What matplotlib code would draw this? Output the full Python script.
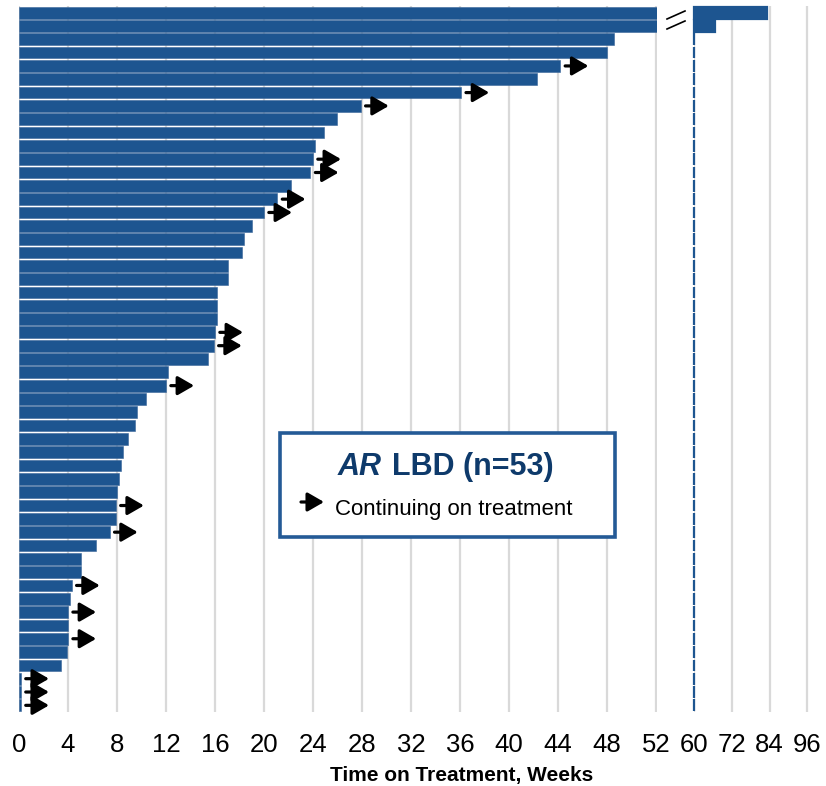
import numpy as np
import matplotlib.pyplot as plt
from matplotlib.patches import Rectangle
from matplotlib.lines import Line2D

plt.rcParams['font.family'] = ['Liberation Sans', 'DejaVu Sans']

# Weeks on treatment per patient, longest first
weeks = [83.1, 66.6, 48.6, 48.0, 44.2, 42.3, 36.1, 27.9, 26.0, 24.9,
         24.2, 24.0, 23.8, 22.2, 21.1, 20.0, 19.0, 18.4, 18.2, 17.1,
         17.1, 16.2, 16.2, 16.2, 16.0, 15.9, 15.4, 12.2, 12.0, 10.4,
         9.6, 9.5, 8.9, 8.5, 8.3, 8.2, 8.0, 7.9, 7.9, 7.4,
         6.3, 5.1, 5.1, 4.3, 4.2, 4.0, 4.0, 4.0, 3.9, 3.4,
         0.15, 0.15, 0.15]
# 1 = still on treatment
ongoing = [0, 0, 0, 0, 1, 0, 1, 1, 0, 0,
           0, 1, 1, 0, 1, 1, 0, 0, 0, 0,
           0, 0, 0, 0, 1, 1, 0, 0, 1, 0,
           0, 0, 0, 0, 0, 0, 0, 1, 0, 1,
           0, 0, 0, 1, 0, 1, 0, 1, 0, 0,
           1, 1, 1]
left_ticks = list(range(0, 53, 4))
right_ticks = [60, 72, 84, 96]

bar_color = '#1D5590'
grid_color = '#D9D9D9'
W, H = 826, 786

arrow_props = dict(arrowstyle='-|>,head_length=0.45,head_width=0.26',
                   mutation_scale=22, lw=2.3, color='black',
                   shrinkA=0, shrinkB=0)

fig = plt.figure(figsize=(W / 100, H / 100), dpi=100)
ax1 = fig.add_axes([19 / W, 74 / H, 638 / W, 706 / H])
ax2 = fig.add_axes([694 / W, 74 / H, 118 / W, 706 / H])

y = np.arange(len(weeks))
w = np.array(weeks)

ax1.barh(y, w, height=0.88, color=bar_color, edgecolor='#3A6699', linewidth=0.4)
ax2.barh(y, np.clip(w - 60, 0, None), left=60, height=0.88, color=bar_color,
         edgecolor=bar_color, linewidth=1.6, clip_on=False)

ax1.set_xlim(0, 52.1)
ax2.set_xlim(60, 97.5)
ax1.set_xticks(left_ticks)
ax2.set_xticks(right_ticks)

for ax in (ax1, ax2):
    ax.set_ylim(len(weeks) - 0.5, -0.5)
    ax.set_yticks([])
    for s in ax.spines.values():
        s.set_visible(False)
    ax.set_axisbelow(True)
    ax.grid(axis='x', color=grid_color, linewidth=1.6)
    ax.tick_params(axis='x', length=0, pad=15, labelsize=18.5)

# arrows for patients continuing on treatment
for yi, v, flag in zip(y, w, ongoing):
    if flag:
        ax1.annotate('', xy=(v + 2.3, yi), xytext=(v + 0.4, yi),
                     arrowprops=arrow_props)

# axis break marks
for y0 in (19, 29):
    fig.add_artist(Line2D([667 / W, 685 / W], [1 - y0 / H, 1 - (y0 - 8) / H],
                          color='black', lw=1.2))

# legend box
fig.add_artist(Rectangle((280 / W, 1 - 537 / H), 335 / W, 104 / H,
                         transform=fig.transFigure, facecolor='white',
                         edgecolor='#245A96', linewidth=2.6, zorder=2))
fig.text(382 / W, 1 - 475 / H, 'AR', ha='right', va='baseline', fontsize=22,
         fontweight='bold', style='italic', color='#0E3A6B', zorder=3)
fig.text(392 / W, 1 - 475 / H, 'LBD (n=53)', ha='left', va='baseline', fontsize=22,
         fontweight='bold', color='#0E3A6B', zorder=3)
fig.add_artist(plt.Annotation('', xy=(324 / W, 1 - 502 / H), xytext=(301 / W, 1 - 502 / H),
                              xycoords='figure fraction', arrowprops=arrow_props))
fig.text(335 / W, 1 - 515 / H, 'Continuing on treatment', ha='left', va='baseline',
         fontsize=16, color='black', zorder=3)

fig.text(462 / W, 1 - 781 / H, 'Time on Treatment, Weeks', ha='center', va='baseline',
         fontsize=15, fontweight='bold')

fig.savefig('out.png', dpi=100)
